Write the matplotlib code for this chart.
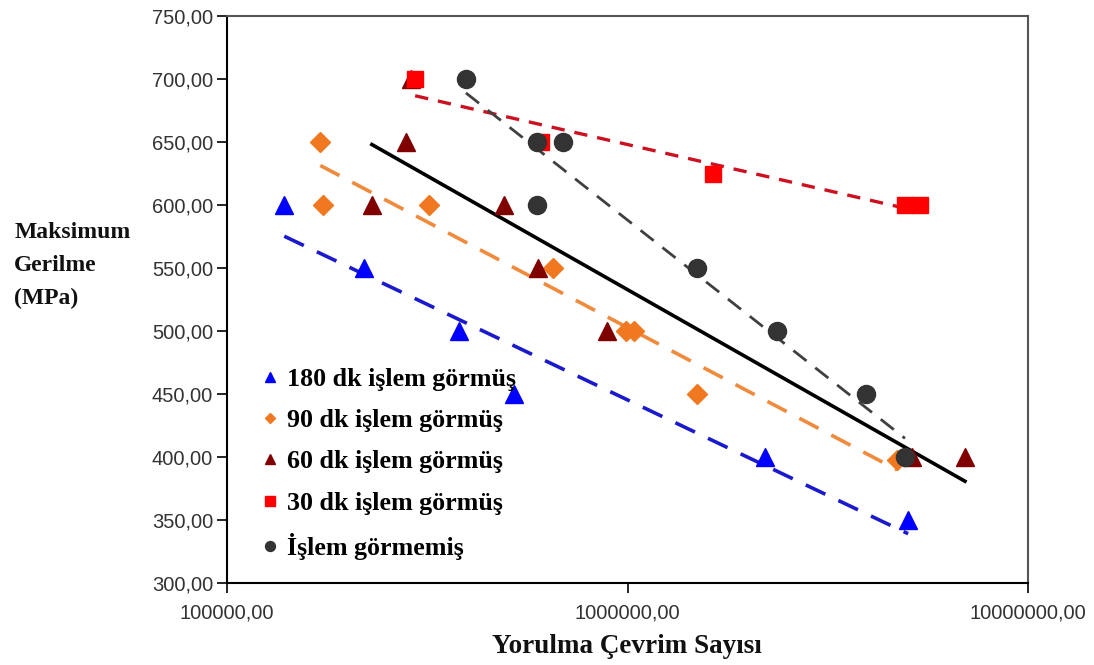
import numpy as np
import matplotlib
matplotlib.use("Agg")
import matplotlib.pyplot as plt
from matplotlib.ticker import FixedLocator, FuncFormatter, NullLocator

# ---- data ----
x_180 = [1.39e5, 2.20e5, 3.80e5, 5.21e5, 2.20e6, 5.02e6]
y_180 = [600, 550, 500, 450, 400, 350]

x_90 = [1.71e5, 1.74e5, 3.19e5, 6.52e5, 9.92e5, 1.04e6, 1.49e6, 4.71e6]
y_90 = [650, 600, 600, 550, 500, 500, 450, 398]

x_60 = [2.88e5, 2.80e5, 2.30e5, 4.92e5, 5.98e5, 8.89e5, 5.13e6, 6.96e6]
y_60 = [700, 650, 600, 600, 550, 500, 400, 400]

x_30 = [2.95e5, 6.08e5, 1.635e6, 4.93e6, 5.38e6]
y_30 = [700, 650, 625, 600, 600]

x_0 = [3.95e5, 5.94e5, 6.90e5, 5.94e5, 1.49e6, 2.36e6, 3.94e6, 4.93e6]
y_0 = [700, 650, 650, 600, 550, 500, 450, 400]

labels = ["180 dk işlem görmüş", "90 dk işlem görmüş", "60 dk işlem görmüş",
          "30 dk işlem görmüş", "İşlem görmemiş"]
x_ticks = [1e5, 1e6, 1e7]
y_ticks = [300, 350, 400, 450, 500, 550, 600, 650, 700, 750]

W, H = 1094, 665
fig = plt.figure(figsize=(W / 100, H / 100), dpi=100)
ax = fig.add_axes([227 / W, 1 - 583 / H, (1028 - 227) / W, (583 - 16) / H])
ax.set_xscale("log")
ax.set_xlim(1e5, 1e7)
ax.set_ylim(300, 750)

def trend(xs, ys, color, ls, lw, dashes=None):
    lx = np.log10(xs)
    k, b = np.polyfit(lx, ys, 1)
    xx = np.linspace(min(lx), max(lx), 50)
    line, = ax.plot(10 ** xx, k * xx + b, color=color, ls=ls, lw=lw, zorder=3)
    if dashes is not None:
        line.set_dashes(dashes)

trend(x_180, y_180, "#1a1acc", "--", 2.6, (6, 4))
trend(x_90, y_90, "#f08a3c", "--", 2.6, (6, 4))
trend(x_60, y_60, "black", "-", 2.6)
trend(x_30, y_30, "#cc1020", "--", 2.4, (4, 3))
trend(x_0, y_0, "#404040", "--", 2.0, (6, 4))

ms = 13
h1, = ax.plot(x_180, y_180, "^", color="#0000ff", ms=ms, ls="none", zorder=4, label=labels[0])
h2, = ax.plot(x_90, y_90, "D", color="#f07820", ms=10, ls="none", zorder=4, label=labels[1])
h3, = ax.plot(x_60, y_60, "^", color="#800000", ms=ms, ls="none", zorder=4, label=labels[2])
h4, = ax.plot(x_30, y_30, "s", color="#ff0000", ms=12, ls="none", zorder=5, label=labels[3])
h5, = ax.plot(x_0, y_0, "o", color="#333333", ms=ms, ls="none", zorder=6, label=labels[4])

ax.xaxis.set_major_locator(FixedLocator(x_ticks))
ax.xaxis.set_minor_locator(NullLocator())
ax.yaxis.set_major_locator(FixedLocator(y_ticks))
fmt = FuncFormatter(lambda v, p: f"{v:.2f}".replace(".", ","))
ax.xaxis.set_major_formatter(fmt)
ax.yaxis.set_major_formatter(fmt)
ax.tick_params(axis="both", labelsize=14.5, labelcolor="#333333", length=7, direction="out", width=1.2)
ax.tick_params(axis="y", pad=3)
ax.tick_params(axis="x", pad=8)
for t in ax.get_xticklabels() + ax.get_yticklabels():
    t.set_family(["Liberation Sans", "DejaVu Sans"])
for s in ["left", "bottom"]:
    ax.spines[s].set_linewidth(1.5)
    ax.spines[s].set_color("black")
for s in ["top", "right"]:
    ax.spines[s].set_linewidth(1.5)
    ax.spines[s].set_color("#555555")

serif = ["Liberation Serif", "DejaVu Serif"]
leg = ax.legend(handles=[h1, h2, h3, h4, h5], loc="lower left", bbox_to_anchor=(0.005, -0.005),
                frameon=False, markerscale=0.55, labelspacing=0.70, handlelength=1.0,
                handletextpad=0.15, borderpad=0.5, prop={"family": serif, "weight": "bold", "size": 18.7})

fig.text(0.013, 0.666, "Maksimum\nGerilme\n(MPa)", family=serif, fontsize=17, weight="bold",
         ha="left", va="top", linespacing=1.75, color="#111111")
fig.text(0.573, 0.028, "Yorulma Çevrim Sayısı", family=serif, fontsize=19.5, weight="bold",
         ha="center", va="center", color="#111111")

fig.savefig("out.png", dpi=100)
